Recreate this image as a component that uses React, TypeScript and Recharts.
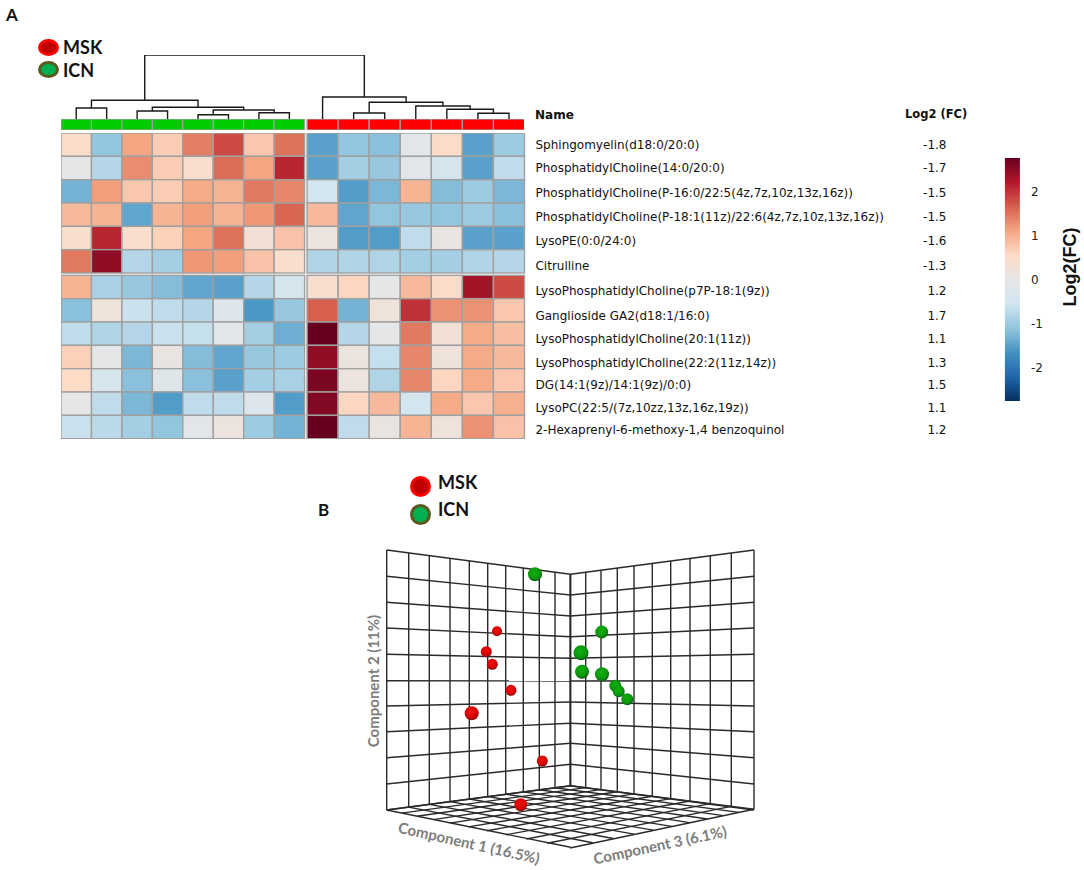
import React from 'react';
import { Bar, BarChart, Scatter, ScatterChart, XAxis, YAxis } from 'recharts';

// heatmap
const rowNames = [
  'Sphingomyelin(d18:0/20:0)',
  'PhosphatidylCholine(14:0/20:0)',
  'PhosphatidylCholine(P-16:0/22:5(4z,7z,10z,13z,16z))',
  'PhosphatidylCholine(P-18:1(11z)/22:6(4z,7z,10z,13z,16z))',
  'LysoPE(0:0/24:0)',
  'Citrulline',
  'LysoPhosphatidylCholine(p7P-18:1(9z))',
  'Ganglioside GA2(d18:1/16:0)',
  'LysoPhosphatidylCholine(20:1(11z))',
  'LysoPhosphatidylCholine(22:2(11z,14z))',
  'DG(14:1(9z)/14:1(9z)/0:0)',
  'LysoPC(22:5/(7z,10zz,13z,16z,19z))',
  '2-Hexaprenyl-6-methoxy-1,4 benzoquinol',
];
const foldChanges = ['-1.8', '-1.7', '-1.5', '-1.5', '-1.6', '-1.3', '1.2', '1.7', '1.1', '1.3', '1.5', '1.1', '1.2'];
// the text rows drift a little from the cell rows in the original
const labelRows = [0.5, 1.49, 2.545, 3.59, 4.61, 5.69, 6.76, 7.81, 8.83, 9.83, 10.8, 11.77, 12.71];
const cellValues = [
  [0.5, -1.1, 1.1, 0.7, 1.4, 1.8, 0.75, 1.5, -1.5, -1.1, -1.15, -0.1, 0.5, -1.5, -1.0],
  [-0.05, -0.8, 1.3, 0.7, 0.45, 1.55, 1.1, 2.1, -1.5, -0.95, -1.05, -0.1, -0.45, -1.5, -0.7],
  [-1.3, 1.15, 0.75, 0.7, 1.05, 0.95, 1.45, 1.35, -0.5, -1.55, -1.25, 0.95, -1.2, -1.0, -1.25],
  [0.9, 0.95, -1.45, 0.95, 1.15, 0.95, 1.2, 1.6, 0.9, -1.45, -1.1, -1.05, -1.1, -1.0, -1.15],
  [0.4, 2.1, 0.45, 0.65, 1.1, 1.5, 0.3, 0.8, 0.15, -1.55, -1.55, -0.7, 0.1, -1.5, -1.5],
  [1.45, 2.45, -0.8, -0.95, 1.2, 1.15, 0.8, 0.45, -0.85, -0.85, -0.85, -0.95, -0.95, -0.85, -0.8],
  [0.95, -0.9, -1.05, -1.2, -1.45, -1.5, -0.8, -0.45, 0.4, 0.6, -0.05, 0.9, 0.5, 2.3, 1.8],
  [-1.15, 0.2, -0.6, -0.7, -0.8, -0.25, -1.6, -1.05, 1.65, -1.3, 0.2, 2.0, 1.25, 1.25, 0.75],
  [-0.7, -0.85, -0.8, -0.6, -0.65, -0.15, -0.95, -1.35, 2.75, -0.8, -0.05, 1.45, 0.3, 1.05, 0.85],
  [0.65, -0.05, -1.25, 0.1, -1.2, -1.45, -1.05, -1.0, 2.45, 0.15, -0.65, 1.35, 0.2, 1.05, 0.9],
  [0.55, -0.4, -1.15, -0.2, -1.15, -1.5, -0.95, -0.9, 2.6, 0.15, -0.85, 1.35, 0.6, 1.05, 0.75],
  [-0.05, -0.7, -1.25, -1.55, -0.7, -0.7, -0.3, -1.55, 2.55, 0.6, 0.9, -0.5, 1.05, 0.75, 1.0],
  [-0.6, -0.75, -0.95, -1.1, -0.15, 0.15, -1.0, -1.3, 2.8, -0.7, 0.1, 0.95, 0.2, 1.25, 0.8],
];
const colorStops = ['#053061', '#2166ac', '#4393c3', '#92c5de', '#d1e5f0', '#e6e6e6', '#fddbc7', '#f4a582', '#d6604d', '#b2182b', '#67001f'];

// dendrogram merges: [left, right, height]. Ids 0-14 are columns, 15+ are earlier merges
const merges = [
  [0, 1, 11], [2, 3, 8], [4, 5, 4.3], [6, 7, 6.3], [17, 18, 9], [16, 19, 11.7], [15, 20, 18.7],
  [9, 10, 6], [13, 14, 5.7], [12, 23, 9.7], [11, 24, 13], [22, 25, 16.7], [8, 26, 22], [21, 27, 64],
];

// PCA projection, in picture units
const mskPoints = [
  { x: 117, y: 91.3, r: 5 }, { x: 106.3, y: 111.7, r: 5.5 }, { x: 112.3, y: 124.3, r: 5.5 }, { x: 131, y: 150.3, r: 5.5 },
  { x: 91.7, y: 173.3, r: 7 }, { x: 162.3, y: 221, r: 5.5 }, { x: 140.7, y: 264.7, r: 6.5 },
];
const icnPoints = [
  { x: 155, y: 34.3, r: 7 }, { x: 221.7, y: 92, r: 6.5 }, { x: 201, y: 112.7, r: 7.5 }, { x: 202, y: 131.7, r: 7 },
  { x: 222, y: 134.3, r: 7 }, { x: 235.3, y: 145.7, r: 6 }, { x: 238.7, y: 151.3, r: 6 }, { x: 247.3, y: 159.3, r: 6 },
];
// frame of the 3D box
const leftWallX = [190, 175, 159.3, 143.3, 125.7, 107.7, 89.3, 70, 49.3, 28.7, 6.7];
const rightWallX = [190.7, 205.7, 221, 237.3, 254, 272.3, 290.7, 310, 330.3, 351.3, 374];
const centerY = [34.3, 55, 76, 96.7, 118.3, 141, 162, 183.3, 203.3, 224.3, 245.7];
const edgeY = [10, 36.3, 62.3, 88, 114.3, 140.7, 166, 191.7, 217.7, 244, 270];

const COL_L = 0.99;
const COL_R = 1.01;
const COL_GAP = 0.08;
const ROW_GAP = 0.1;
const HEAT_W = 463.5;
const HEAT_H = 305.7;
const X_MAX = 8 * COL_L + COL_GAP + 7 * COL_R;
const Y_MAX = 13 + ROW_GAP;
const unitX = HEAT_W / X_MAX;
const unitY = HEAT_H / Y_MAX;

const colCenter = (c: number) => (c < 8 ? (c + 0.5) * COL_L : 8 * COL_L + COL_GAP + (c - 7.5) * COL_R);
const rowCenter = (r: number) => (r < 6 ? r + 0.5 : r + 0.5 + ROW_GAP);

const hex = (s: string) => [1, 3, 5].map((i) => parseInt(s.slice(i, i + 2), 16));
const valueColor = (v: number) => {
  const t = Math.max(0, Math.min(0.9999, (v + 2.75) / 5.5)) * (colorStops.length - 1);
  const i = Math.floor(t);
  const a = hex(colorStops[i]);
  const b = hex(colorStops[i + 1]);
  return `rgb(${a.map((x, k) => Math.round(x + (b[k] - x) * (t - i))).join(',')})`;
};

const cells = cellValues.flatMap((row, r) =>
  row.map((value, c) => ({ x: colCenter(c), y: rowCenter(r), fill: valueColor(value), w: (c < 8 ? COL_L : COL_R) * unitX })),
);
const groupStrip = cellValues[0].map((_, c) => ({
  x: colCenter(c),
  y: 0.5,
  fill: c < 8 ? '#00cc00' : '#ff0000',
  w: (c < 8 ? COL_L : COL_R) * unitX,
}));

// every merge becomes one bracket
const nodes: { x: number; h: number }[] = cellValues[0].map((_, c) => ({ x: colCenter(c), h: 0 }));
const brackets = merges.map(([l, r, h]) => {
  const a = nodes[l];
  const b = nodes[r];
  nodes.push({ x: (a.x + b.x) / 2, h });
  return [
    { x: a.x, y: a.h },
    { x: a.x, y: h },
    { x: b.x, y: h },
    { x: b.x, y: b.h },
  ];
});

const line = (x1: number, y1: number, x2: number, y2: number) => [{ x: x1, y: y1 }, { x: x2, y: y2 }];
const floorDy = 38;
const frameLines = [
  // left and right wall verticals
  ...leftWallX.map((x) => {
    const d = (190 - x) / 183.3;
    return line(x, 34 - d * 24, x, 245.7 + d * 24.3);
  }),
  ...rightWallX.map((x) => {
    const d = (x - 190.7) / 183.3;
    return line(x, 34.3 - d * 24.3, x, 245.7 + d * 23.6);
  }),
  // wall horizontals
  ...edgeY.map((y, i) => line(6.7, y, 190.5, centerY[i])),
  ...edgeY.map((y, i) => line(190.5, centerY[i], 374, y)),
  // floor, towards the front left and the front right corner
  ...rightWallX.map((x) => {
    const d = x - 190.7;
    return line(x, 245.7 + (d / 183.3) * 23.6, 6.7 + d, 270 + (d / 183.3) * floorDy);
  }),
  ...leftWallX.map((x) => {
    const d = 190 - x;
    return line(x, 245.7 + (d / 183.3) * 24.3, 374 - d, 269.3 + (d / 183.3) * floorDy);
  }),
];

const NoDot = () => <g />;

const HeatCell = (props: any) => {
  const { cx, cy, payload } = props;
  return <rect x={cx - payload.w / 2} y={cy - unitY / 2} width={payload.w} height={unitY} fill={payload.fill} stroke="#a0a0a0" strokeWidth={1.4} />;
};
const StripCell = (props: any) => {
  const { cx, cy, payload } = props;
  return <rect x={cx - payload.w / 2} y={cy - 5.5} width={payload.w} height={11} fill={payload.fill} stroke="#a0a0a0" strokeWidth={1.2} />;
};
const Sphere = (props: any) => {
  const { cx, cy, payload, gradient } = props;
  return <circle cx={cx} cy={cy} r={payload.r} fill={`url(#${gradient})`} />;
};

const LABEL_FONT = '"DejaVu Sans", Verdana, sans-serif';
const TITLE_FONT = 'Lato, sans-serif';

const Text = ({ x, y, size, children, bold = true, color = '#111', font = TITLE_FONT, rotate = 0 }: any) => (
  <div
    style={{
      position: 'absolute',
      left: x,
      top: y,
      fontFamily: font,
      fontSize: size,
      fontWeight: bold ? 700 : 400,
      color,
      lineHeight: 1,
      whiteSpace: 'nowrap',
      transform: `translate(${rotate ? '-50%' : '0'}, -50%) rotate(${rotate}deg)`,
    }}
  >
    {children}
  </div>
);

const Dot = ({ x, y, w, h, fill, ring }: any) => (
  <div
    style={{
      position: 'absolute',
      left: x - w / 2,
      top: y - h / 2,
      width: w,
      height: h,
      boxSizing: 'border-box',
      borderRadius: '50%',
      background: fill,
      border: `3px solid ${ring}`,
    }}
  />
);

const noMargin = { top: 0, right: 0, bottom: 0, left: 0 };

const App = () => {
  return (
    <div style={{ position: 'absolute', left: 0, top: 0, width: 1084, height: 870, background: '#fff', overflow: 'hidden' }}>
      <Text x={6} y={14} size={17}>A</Text>
      <Dot x={48} y={47.5} w={21} h={17} fill="#c00000" ring="#ff0000" />
      <Dot x={48} y={69.5} w={21} h={17} fill="#00b050" ring="#5a5a1e" />
      <Text x={63} y={46.5} size={18}>MSK</Text>
      <Text x={63} y={69.5} size={18}>ICN</Text>

      {/* dendrogram */}
      <div style={{ position: 'absolute', left: 60.5, top: 55 }}>
        <ScatterChart width={HEAT_W} height={64} margin={noMargin}>
          <XAxis type="number" dataKey="x" domain={[0, X_MAX]} hide />
          <YAxis type="number" dataKey="y" domain={[0, 64]} hide />
          {brackets.map((b, i) => (
            <Scatter key={i} data={b} line={{ stroke: '#1a1a1a', strokeWidth: 1.4 }} shape={NoDot} isAnimationActive={false} />
          ))}
        </ScatterChart>
      </div>

      {/* group strip */}
      <div style={{ position: 'absolute', left: 60.5, top: 119 }}>
        <ScatterChart width={HEAT_W} height={11} margin={noMargin}>
          <XAxis type="number" dataKey="x" domain={[0, X_MAX]} hide />
          <YAxis type="number" dataKey="y" domain={[0, 1]} hide />
          <Scatter data={groupStrip} shape={StripCell} isAnimationActive={false} />
        </ScatterChart>
      </div>

      {/* heatmap with names and fold changes as right hand axes */}
      <div style={{ position: 'absolute', left: 60.5, top: 133.3 }}>
        <ScatterChart width={930} height={HEAT_H} margin={noMargin}>
          <XAxis type="number" dataKey="x" domain={[0, X_MAX]} hide />
          <YAxis
            yAxisId="names"
            type="number"
            dataKey="y"
            domain={[0, Y_MAX]}
            reversed
            orientation="right"
            width={371}
            ticks={labelRows}
            interval={0}
            tickFormatter={(_: number, i: number) => rowNames[i]}
            axisLine={false}
            tickLine={false}
            tickMargin={5}
            tick={{ fill: '#111', fontSize: 12, fontFamily: LABEL_FONT }}
          />
          <YAxis
            yAxisId="values"
            type="number"
            dataKey="y"
            domain={[0, Y_MAX]}
            reversed
            orientation="right"
            width={95.5}
            ticks={labelRows}
            interval={0}
            tickFormatter={(_: number, i: number) => foldChanges[i]}
            axisLine={false}
            tickLine={false}
            tickMargin={45}
            tick={{ fill: '#111', fontSize: 12, fontFamily: LABEL_FONT, textAnchor: 'end' }}
          />
          <Scatter yAxisId="values" data={cells} shape={NoDot} isAnimationActive={false} />
          <Scatter yAxisId="names" data={cells} shape={HeatCell} isAnimationActive={false} />
        </ScatterChart>
      </div>
      <Text x={535} y={115} size={12} font={LABEL_FONT}>Name</Text>
      <Text x={905} y={115} size={11.5} font={LABEL_FONT}>Log2 (FC)</Text>

      {/* colour bar */}
      <div style={{ position: 'absolute', left: 1003, top: 158 }}>
        <BarChart width={81} height={243} data={[{ name: 'scale', range: [-2.75, 2.77] }]} margin={noMargin}>
          <defs>
            <linearGradient id="scaleFill" x1="0" y1="1" x2="0" y2="0">
              {colorStops.map((c, i) => (
                <stop key={c} offset={i / (colorStops.length - 1)} stopColor={c} />
              ))}
            </linearGradient>
          </defs>
          <XAxis dataKey="name" hide />
          <YAxis
            type="number"
            orientation="right"
            domain={[-2.75, 2.77]}
            ticks={[-2, -1, 0, 1, 2]}
            width={62}
            axisLine={false}
            tickLine={false}
            tickMargin={3}
            tick={{ fill: '#222', fontSize: 12, fontFamily: LABEL_FONT }}
          />
          <Bar dataKey="range" fill="url(#scaleFill)" barCategoryGap={0} isAnimationActive={false} />
        </BarChart>
      </div>
      <Text x={1070} y={267} size={18} font="Liberation Sans, sans-serif" rotate={-90}>Log2(FC)</Text>

      {/* panel B */}
      <Text x={318} y={509} size={17}>B</Text>
      <Dot x={420.5} y={486.5} w={21} h={21} fill="#c00000" ring="#ff0000" />
      <Dot x={420.5} y={514} w={21} h={21} fill="#00b050" ring="#5a5a1e" />
      <Text x={438} y={482} size={18}>MSK</Text>
      <Text x={438} y={509} size={18}>ICN</Text>

      <div style={{ position: 'absolute', left: 380, top: 540 }}>
        <ScatterChart width={380} height={315} margin={noMargin}>
          <defs>
            <radialGradient id="redBall" cx="45%" cy="40%" r="60%">
              <stop offset="0%" stopColor="#f01010" />
              <stop offset="70%" stopColor="#d80000" />
              <stop offset="100%" stopColor="#7a1010" />
            </radialGradient>
            <radialGradient id="greenBall" cx="45%" cy="40%" r="60%">
              <stop offset="0%" stopColor="#10b010" />
              <stop offset="70%" stopColor="#0a960a" />
              <stop offset="100%" stopColor="#0a5a1a" />
            </radialGradient>
          </defs>
          <XAxis type="number" dataKey="x" domain={[0, 380]} hide />
          <YAxis type="number" dataKey="y" domain={[0, 315]} reversed hide />
          {frameLines.map((l, i) => (
            <Scatter key={i} data={l} line={{ stroke: '#2a2a2a', strokeWidth: 1.4 }} shape={NoDot} isAnimationActive={false} />
          ))}
          <Scatter data={mskPoints} shape={<Sphere gradient="redBall" />} isAnimationActive={false} />
          <Scatter data={icnPoints} shape={<Sphere gradient="greenBall" />} isAnimationActive={false} />
        </ScatterChart>
      </div>
      <Text x={373} y={681} size={15} color="#7c7c7c" rotate={-90}>Component 2 (11%)</Text>
      <Text x={469} y={843} size={15} color="#7c7c7c" rotate={12.6}>Component 1 (16.5%)</Text>
      <Text x={660} y={845} size={15} color="#7c7c7c" rotate={-12}>Component 3 (6.1%)</Text>
    </div>
  );
};

export default App;
